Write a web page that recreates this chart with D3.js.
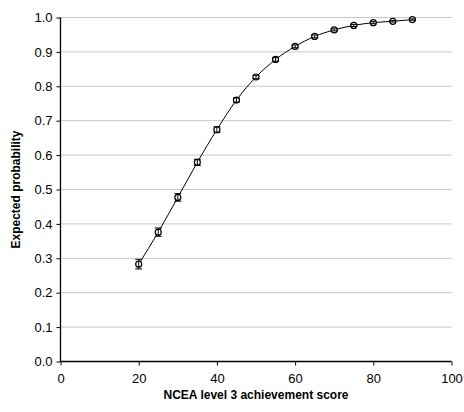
<!DOCTYPE html>
<html><head><meta charset="utf-8">
<script src="https://cdn.jsdelivr.net/npm/d3@7"></script>
<style>body{margin:0;background:#fff}svg{display:block}text{font-family:"Liberation Sans",Arial,sans-serif}</style>
</head><body><svg id="c" width="464" height="412"></svg>
<script>
const scores = [20,25,30,35,40,45,50,55,60,65,70,75,80,85,90];
const probs = [0.283,0.376,0.477,0.579,0.674,0.760,0.827,0.878,0.916,0.945,0.964,0.977,0.985,0.989,0.994];
const errs = [0.014,0.012,0.011,0.009,0.008,0.006,0.005,0.005,0.004,0.004,0.003,0.003,0.003,0.002,0.002];
const xTicks = [0,20,40,60,80,100];
const yTicks = [0,0.1,0.2,0.3,0.4,0.5,0.6,0.7,0.8,0.9,1.0];

const svg = d3.select("#c");
const x = d3.scaleLinear().domain([0,100]).range([60.5,451.5]);
const y = d3.scaleLinear().domain([0,1]).range([361.5,17.5]);

// gridlines
svg.append("g").selectAll("line").data(yTicks.filter(d=>d>0)).join("line")
  .attr("x1",x(0)).attr("x2",x(100)).attr("y1",d=>y(d)).attr("y2",d=>y(d))
  .attr("stroke","#c8c8c8").attr("stroke-width",1);

const yAxis = svg.append("g").attr("transform",`translate(${x(0)},0)`)
  .call(d3.axisLeft(y).tickValues(yTicks).tickFormat(d3.format(".1f")).tickSize(4).tickPadding(4));
const xAxis = svg.append("g").attr("transform",`translate(0,${y(0)})`)
  .call(d3.axisBottom(x).tickValues(xTicks).tickSize(4).tickPadding(8));
[yAxis,xAxis].forEach(a=>{
  a.select(".domain").attr("stroke","#000").attr("stroke-width",1.3);
  a.selectAll(".tick line").attr("stroke","#000");
  a.selectAll("text").attr("font-size",13).attr("fill","#000").style("font-family","Liberation Sans, Arial, sans-serif");
});
yAxis.select(".domain").attr("d",`M0,${y(0)}V${y(1)}`);
xAxis.select(".domain").attr("d",`M${x(0)},0H${x(100)}`);

const data = scores.map((s,i)=>({s,p:probs[i],e:errs[i]}));
svg.append("path").datum(data)
  .attr("d",d3.line().x(d=>x(d.s)).y(d=>y(d.p)).curve(d3.curveMonotoneX))
  .attr("fill","none").attr("stroke","#000").attr("stroke-width",1);

const pts = svg.append("g").selectAll("g").data(data).join("g");
pts.append("circle").attr("cx",d=>x(d.s)).attr("cy",d=>y(d.p)).attr("r",3)
  .attr("fill","#fff").attr("stroke","#000").attr("stroke-width",1.2);
pts.append("line").attr("x1",d=>x(d.s)).attr("x2",d=>x(d.s))
  .attr("y1",d=>y(d.p-d.e)).attr("y2",d=>y(d.p+d.e)).attr("stroke","#000");
pts.append("line").attr("x1",d=>x(d.s)-3.5).attr("x2",d=>x(d.s)+3.5)
  .attr("y1",d=>y(d.p-d.e)).attr("y2",d=>y(d.p-d.e)).attr("stroke","#000");
pts.append("line").attr("x1",d=>x(d.s)-3.5).attr("x2",d=>x(d.s)+3.5)
  .attr("y1",d=>y(d.p+d.e)).attr("y2",d=>y(d.p+d.e)).attr("stroke","#000");

svg.append("text").attr("x",(x(0)+x(100))/2).attr("y",399).attr("text-anchor","middle")
  .attr("font-size",12).attr("font-weight","bold").text("NCEA level 3 achievement score");
svg.append("text").attr("transform",`translate(20,${(y(0)+y(1))/2}) rotate(-90)`).attr("text-anchor","middle")
  .attr("font-size",12).attr("font-weight","bold").text("Expected probability");
</script></body></html>
